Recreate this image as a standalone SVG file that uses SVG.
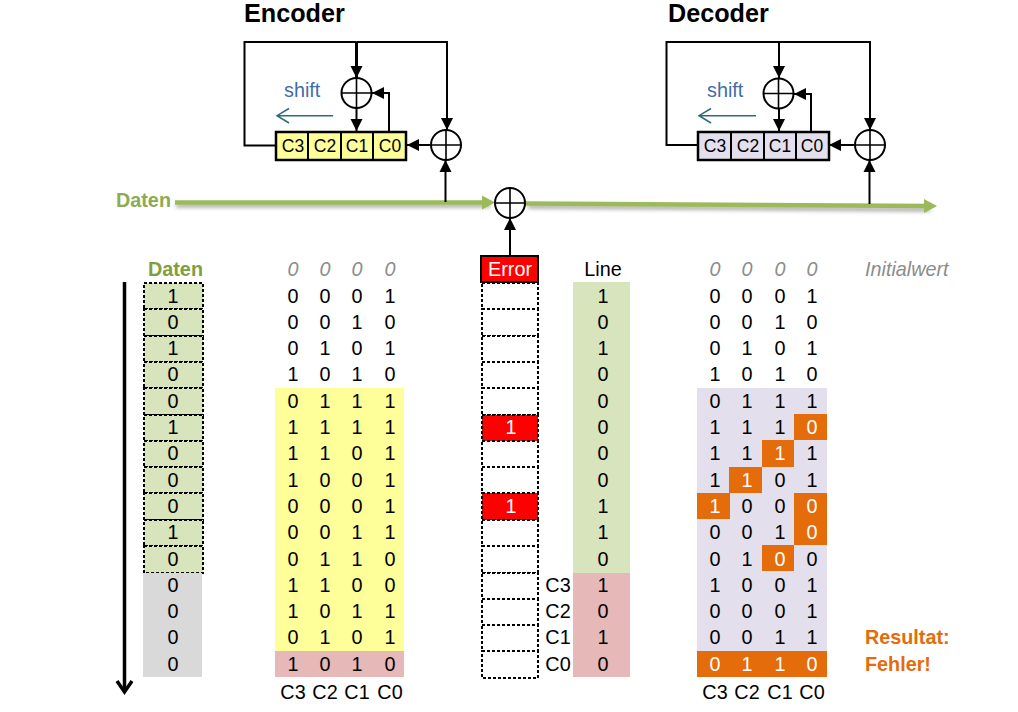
<svg xmlns="http://www.w3.org/2000/svg" width="1018" height="712" viewBox="0 0 1018 712">
<style>
text{font-family:"Liberation Sans",Arial,sans-serif;font-size:19.800px;fill:#000;text-anchor:middle}
.h{font-size:25.200px;font-weight:bold;text-anchor:start}
.r{font-size:17.500px;fill:#000}
.w{fill:#fff}
.i{font-style:italic;fill:#8c8c8c}
.s{fill:#3f6ea8;font-size:19.800px;text-anchor:start}
.b{font-weight:bold;text-anchor:start}
.o{fill:#E46C0A}
.l{fill:none;stroke:#000;stroke-width:2}
.x{fill:#fff;stroke:#000;stroke-width:2}
.t{fill:none;stroke:#000;stroke-width:1.6}
.d{fill:#D8E4BC;stroke:#000;stroke-width:2;stroke-dasharray:3 2}
.e{fill:#fff;stroke:#000;stroke-width:2;stroke-dasharray:3 2}
.f{fill:#FF0000;stroke:#000;stroke-width:2;stroke-dasharray:3 2}
.a{fill:#E46C0A}
.c{stroke:#000;stroke-width:2}
.sh{fill:none;stroke:#2f6b7a;stroke-width:1.5}
.gl{fill:none;stroke:#9BBB59;stroke-width:4.5}
</style>
<defs>
<marker id="ah" markerUnits="userSpaceOnUse" markerWidth="13" markerHeight="13" refX="12" refY="6.5" orient="auto"><path d="M0,0.5L12,6.5L0,12.5Z" fill="#000"/></marker>
<filter id="blur" x="-5%" y="-400%" width="110%" height="900%"><feGaussianBlur stdDeviation="2"/></filter>
</defs>

<g id="connectors">
<path d="M176,205.5L490,205.5M528,206.5L930,209.5" stroke="#888" stroke-width="3" fill="none" filter="url(#blur)"/>
<path class="gl" d="M175,202.5L482,202.5"/><path d="M482,195.5L495,202.5L482,209.5Z" fill="#9BBB59"/>
<path class="gl" d="M525,203.5L926,206"/><path d="M924,199L937,206L924,213Z" fill="#9BBB59"/>
<path class="l" d="M356.500,42H244.500V145.500H276" />
<path class="l" d="M356.500,42H447V130" marker-end="url(#ah)"/>
<path d="M356.500,42V78" fill="none" stroke="#000" stroke-width="3" marker-end="url(#ah)"/>
<path class="l" d="M356.500,108V131" marker-end="url(#ah)"/>
<path class="l" d="M389,132V93H372" marker-end="url(#ah)"/>
<path class="l" d="M431,145H407" marker-end="url(#ah)"/>
<path class="l" d="M445.500,202V160" marker-end="url(#ah)"/>
<path class="l" d="M779,42H666.500V145H698"/>
<path class="l" d="M779,42H870V130" marker-end="url(#ah)"/>
<path class="l" d="M779,42V78" marker-end="url(#ah)"/>
<path class="l" d="M779,108V131" marker-end="url(#ah)"/>
<path class="l" d="M811,132V94H794" marker-end="url(#ah)"/>
<path class="l" d="M855,145H829" marker-end="url(#ah)"/>
<path class="l" d="M869.500,204V160" marker-end="url(#ah)"/>
<path class="l" d="M510,256V218" marker-end="url(#ah)"/>
<path class="sh" d="M333,115.700H277M289,108.500L277,115.700L289,123"/>
<path class="sh" d="M756,115.700H699M711,108.500L699,115.700L711,123"/>
<path d="M124.500,282V692" stroke="#000" stroke-width="3.500" fill="none"/>
<path d="M117,681L124.500,692L132,681" stroke="#000" stroke-width="3.500" fill="none"/>
</g>

<g id="encoder-title"><text class="h" x="244" y="22">Encoder</text></g>
<g id="decoder-title"><text class="h" x="668" y="22">Decoder</text></g>
<g id="daten-input"><text class="b" x="116" y="207" style="fill:#8CAB52">Daten</text></g>

<g id="encoder-register">
<rect x="276" y="132" width="130" height="28" fill="#FFFF99" stroke="#000" stroke-width="2.500"/>
<path class="c" d="M308,132V160M341,132V160M373,132V160"/>
<text class="r" x="293" y="152">C3</text><text class="r" x="325" y="152">C2</text><text class="r" x="357" y="152">C1</text><text class="r" x="390" y="152">C0</text>
<text class="s" x="284" y="97">shift</text>
</g>
<g id="decoder-register">
<rect x="698" y="132" width="131" height="28" fill="#E4DFEC" stroke="#000" stroke-width="2.500"/>
<path class="c" d="M731,132V160M764,132V160M796,132V160"/>
<text class="r" x="715" y="152">C3</text><text class="r" x="748" y="152">C2</text><text class="r" x="780" y="152">C1</text><text class="r" x="812" y="152">C0</text>
<text class="s" x="707" y="97">shift</text>
</g>

<g id="xor-enc-1"><circle class="x" cx="356.500" cy="93" r="15"/><path class="t" d="M341.500,93H371.500M356.500,78V108"/></g>
<g id="xor-enc-2"><circle class="x" cx="446" cy="145" r="15"/><path class="t" d="M431,145H461M446,130V160"/></g>
<g id="xor-line"><circle class="x" cx="510" cy="203" r="15"/><path class="t" d="M495,203H525M510,188V218"/></g>
<g id="xor-dec-1"><circle class="x" cx="778.500" cy="93.500" r="15"/><path class="t" d="M763.500,93.500H793.500M778.500,78.500V108.500"/></g>
<g id="xor-dec-2"><circle class="x" cx="870" cy="145" r="15"/><path class="t" d="M855,145H885M870,130V160"/></g>

<g id="daten-column">
<text class="b" x="148" y="276" style="fill:#7F9F3F">Daten</text>
<rect class="d" x="144" y="283" width="59" height="26"/><rect class="d" x="144" y="309" width="59" height="27"/><rect class="d" x="144" y="336" width="59" height="26"/><rect class="d" x="144" y="362" width="59" height="26"/><rect class="d" x="144" y="388" width="59" height="27"/><rect class="d" x="144" y="415" width="59" height="26"/><rect class="d" x="144" y="441" width="59" height="26"/><rect class="d" x="144" y="467" width="59" height="26"/><rect class="d" x="144" y="493" width="59" height="27"/><rect class="d" x="144" y="520" width="59" height="26"/><rect class="d" x="144" y="546" width="59" height="27"/>
<rect x="143" y="573" width="59" height="104" fill="#D9D9D9"/>
<text x="173" y="302.500">1</text><text x="173" y="328.800">0</text><text x="173" y="355.100">1</text><text x="173" y="381.400">0</text><text x="173" y="407.700">0</text><text x="173" y="434">1</text><text x="173" y="460.300">0</text><text x="173" y="486.600">0</text><text x="173" y="512.900">0</text><text x="173" y="539.200">1</text><text x="173" y="565.500">0</text><text x="173" y="591.800">0</text><text x="173" y="618.100">0</text><text x="173" y="644.400">0</text><text x="173" y="670.700">0</text>
</g>

<g id="encoder-table">
<rect x="275" y="388" width="129" height="263" fill="#FFFF99"/>
<rect x="275" y="651" width="129" height="26" fill="#E6B8B7"/>
<text class="i" x="293" y="276">0</text><text class="i" x="325" y="276">0</text><text class="i" x="357" y="276">0</text><text class="i" x="390" y="276">0</text>
<text x="293" y="302.500">0</text><text x="325" y="302.500">0</text><text x="357" y="302.500">0</text><text x="390" y="302.500">1</text>
<text x="293" y="328.800">0</text><text x="325" y="328.800">0</text><text x="357" y="328.800">1</text><text x="390" y="328.800">0</text>
<text x="293" y="355.100">0</text><text x="325" y="355.100">1</text><text x="357" y="355.100">0</text><text x="390" y="355.100">1</text>
<text x="293" y="381.400">1</text><text x="325" y="381.400">0</text><text x="357" y="381.400">1</text><text x="390" y="381.400">0</text>
<text x="293" y="407.700">0</text><text x="325" y="407.700">1</text><text x="357" y="407.700">1</text><text x="390" y="407.700">1</text>
<text x="293" y="434">1</text><text x="325" y="434">1</text><text x="357" y="434">1</text><text x="390" y="434">1</text>
<text x="293" y="460.300">1</text><text x="325" y="460.300">1</text><text x="357" y="460.300">0</text><text x="390" y="460.300">1</text>
<text x="293" y="486.600">1</text><text x="325" y="486.600">0</text><text x="357" y="486.600">0</text><text x="390" y="486.600">1</text>
<text x="293" y="512.900">0</text><text x="325" y="512.900">0</text><text x="357" y="512.900">0</text><text x="390" y="512.900">1</text>
<text x="293" y="539.200">0</text><text x="325" y="539.200">0</text><text x="357" y="539.200">1</text><text x="390" y="539.200">1</text>
<text x="293" y="565.500">0</text><text x="325" y="565.500">1</text><text x="357" y="565.500">1</text><text x="390" y="565.500">0</text>
<text x="293" y="591.800">1</text><text x="325" y="591.800">1</text><text x="357" y="591.800">0</text><text x="390" y="591.800">0</text>
<text x="293" y="618.100">1</text><text x="325" y="618.100">0</text><text x="357" y="618.100">1</text><text x="390" y="618.100">1</text>
<text x="293" y="644.400">0</text><text x="325" y="644.400">1</text><text x="357" y="644.400">0</text><text x="390" y="644.400">1</text>
<text x="293" y="670.700">1</text><text x="325" y="670.700">0</text><text x="357" y="670.700">1</text><text x="390" y="670.700">0</text>
<text x="293" y="699">C3</text><text x="325" y="699">C2</text><text x="357" y="699">C1</text><text x="390" y="699">C0</text>
</g>

<g id="error-column">
<rect x="481" y="256" width="57" height="26" fill="#FF0000" stroke="#000" stroke-width="2"/>
<text class="w" x="510" y="276">Error</text>
<rect class="e" x="482" y="283" width="56" height="26"/><rect class="e" x="482" y="309" width="56" height="27"/><rect class="e" x="482" y="336" width="56" height="26"/><rect class="e" x="482" y="362" width="56" height="26"/><rect class="e" x="482" y="388" width="56" height="27"/>
<rect class="f" x="482" y="415" width="56" height="26"/>
<rect class="e" x="482" y="441" width="56" height="26"/><rect class="e" x="482" y="467" width="56" height="26"/>
<rect class="f" x="482" y="493" width="56" height="27"/>
<rect class="e" x="482" y="520" width="56" height="26"/><rect class="e" x="482" y="546" width="56" height="27"/><rect class="e" x="482" y="573" width="56" height="26"/><rect class="e" x="482" y="599" width="56" height="26"/><rect class="e" x="482" y="625" width="56" height="26"/><rect class="e" x="482" y="651" width="56" height="27"/>
<text class="w" x="511" y="434">1</text><text class="w" x="511" y="512.900">1</text>
</g>

<g id="line-column">
<rect x="573" y="282" width="57" height="291" fill="#D8E4BC"/>
<rect x="573" y="573" width="57" height="104" fill="#E6B8B7"/>
<text x="603" y="276">Line</text>
<text x="603" y="302.500">1</text><text x="603" y="328.800">0</text><text x="603" y="355.100">1</text><text x="603" y="381.400">0</text><text x="603" y="407.700">0</text><text x="603" y="434">0</text><text x="603" y="460.300">0</text><text x="603" y="486.600">0</text><text x="603" y="512.900">1</text><text x="603" y="539.200">1</text><text x="603" y="565.500">0</text><text x="603" y="591.800">1</text><text x="603" y="618.100">0</text><text x="603" y="644.400">1</text><text x="603" y="670.700">0</text>
<text x="558" y="591.800">C3</text><text x="558" y="618.100">C2</text><text x="558" y="644.400">C1</text><text x="558" y="670.700">C0</text>
</g>

<g id="decoder-table">
<rect x="697" y="388" width="130" height="289" fill="#E4DFEC"/>
<rect class="a" x="794" y="414" width="33" height="26"/>
<rect class="a" x="762" y="440" width="32" height="27"/>
<rect class="a" x="729" y="467" width="33" height="26"/>
<rect class="a" x="697" y="493" width="33" height="26"/>
<rect class="a" x="794" y="493" width="33" height="52"/>
<rect class="a" x="762" y="545" width="32" height="26"/>
<rect class="a" x="697" y="651" width="130" height="26"/>
<text class="i" x="715" y="276">0</text><text class="i" x="747" y="276">0</text><text class="i" x="780" y="276">0</text><text class="i" x="812" y="276">0</text>
<text x="715" y="302.500">0</text><text x="747" y="302.500">0</text><text x="780" y="302.500">0</text><text x="812" y="302.500">1</text>
<text x="715" y="328.800">0</text><text x="747" y="328.800">0</text><text x="780" y="328.800">1</text><text x="812" y="328.800">0</text>
<text x="715" y="355.100">0</text><text x="747" y="355.100">1</text><text x="780" y="355.100">0</text><text x="812" y="355.100">1</text>
<text x="715" y="381.400">1</text><text x="747" y="381.400">0</text><text x="780" y="381.400">1</text><text x="812" y="381.400">0</text>
<text x="715" y="407.700">0</text><text x="747" y="407.700">1</text><text x="780" y="407.700">1</text><text x="812" y="407.700">1</text>
<text x="715" y="434">1</text><text x="747" y="434">1</text><text x="780" y="434">1</text><text class="w" x="812" y="434">0</text>
<text x="715" y="460.300">1</text><text x="747" y="460.300">1</text><text class="w" x="780" y="460.300">1</text><text x="812" y="460.300">1</text>
<text x="715" y="486.600">1</text><text class="w" x="747" y="486.600">1</text><text x="780" y="486.600">0</text><text x="812" y="486.600">1</text>
<text class="w" x="715" y="512.900">1</text><text x="747" y="512.900">0</text><text x="780" y="512.900">0</text><text class="w" x="812" y="512.900">0</text>
<text x="715" y="539.200">0</text><text x="747" y="539.200">0</text><text x="780" y="539.200">1</text><text class="w" x="812" y="539.200">0</text>
<text x="715" y="565.500">0</text><text x="747" y="565.500">1</text><text class="w" x="780" y="565.500">0</text><text x="812" y="565.500">0</text>
<text x="715" y="591.800">1</text><text x="747" y="591.800">0</text><text x="780" y="591.800">0</text><text x="812" y="591.800">1</text>
<text x="715" y="618.100">0</text><text x="747" y="618.100">0</text><text x="780" y="618.100">0</text><text x="812" y="618.100">1</text>
<text x="715" y="644.400">0</text><text x="747" y="644.400">0</text><text x="780" y="644.400">1</text><text x="812" y="644.400">1</text>
<text class="w" x="715" y="670.700">0</text><text class="w" x="747" y="670.700">1</text><text class="w" x="780" y="670.700">1</text><text class="w" x="812" y="670.700">0</text>
<text x="715" y="699">C3</text><text x="747" y="699">C2</text><text x="780" y="699">C1</text><text x="812" y="699">C0</text>
</g>

<g id="annotations">
<text class="i" x="865" y="276" style="text-anchor:start">Initialwert</text>
<text class="b o" x="865" y="644">Resultat:</text>
<text class="b o" x="865" y="671">Fehler!</text>
</g>
</svg>
